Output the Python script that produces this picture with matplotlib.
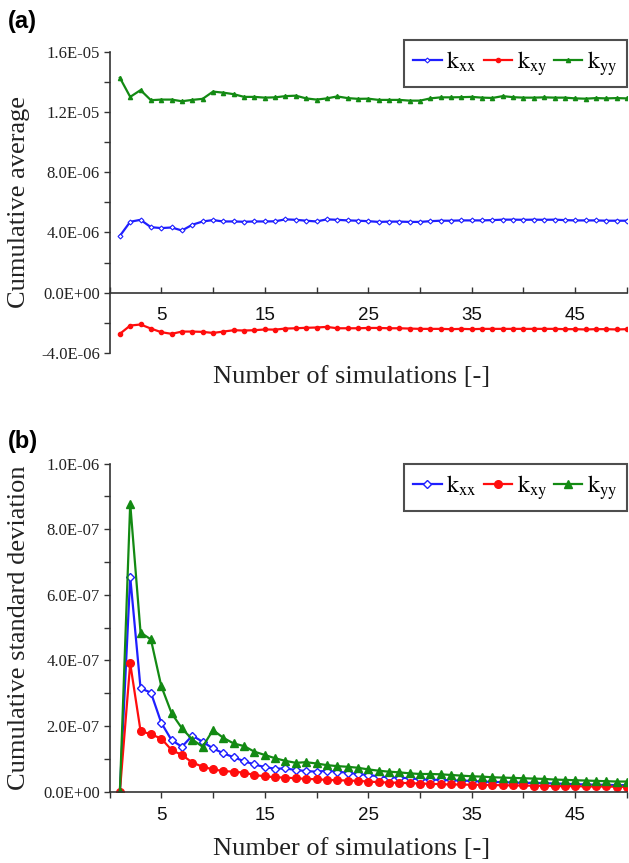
import numpy as np
import matplotlib
matplotlib.use("Agg")
import matplotlib.pyplot as plt
from matplotlib.ticker import FixedLocator, MultipleLocator, FuncFormatter

plt.rcParams['mathtext.fontset'] = 'stix'

# simulation number 1..50
sims = np.arange(1, 51)

# (a) cumulative average, in units of 1E-06
avg_kxx = [3.77, 4.71, 4.84, 4.35, 4.29, 4.33, 4.13, 4.51, 4.73, 4.82,
           4.73, 4.73, 4.71, 4.73, 4.73, 4.74, 4.87, 4.84, 4.78, 4.73,
           4.87, 4.84, 4.80, 4.78, 4.75, 4.70, 4.72, 4.72, 4.70, 4.70,
           4.75, 4.78, 4.78, 4.80, 4.80, 4.80, 4.82, 4.85, 4.85, 4.84,
           4.85, 4.84, 4.85, 4.82, 4.80, 4.80, 4.80, 4.78, 4.78, 4.78]
avg_kxy = [-2.73, -2.18, -2.11, -2.38, -2.62, -2.73, -2.58, -2.58, -2.60, -2.67,
           -2.58, -2.49, -2.51, -2.49, -2.44, -2.45, -2.38, -2.36, -2.33, -2.31,
           -2.27, -2.36, -2.36, -2.36, -2.34, -2.34, -2.36, -2.36, -2.38, -2.40,
           -2.40, -2.40, -2.42, -2.40, -2.42, -2.40, -2.40, -2.40, -2.40, -2.40,
           -2.40, -2.40, -2.40, -2.42, -2.42, -2.44, -2.42, -2.42, -2.44, -2.42]
avg_kyy = [14.27, 13.00, 13.45, 12.78, 12.82, 12.82, 12.71, 12.80, 12.87, 13.35,
           13.28, 13.18, 13.00, 13.00, 12.95, 12.97, 13.05, 13.08, 12.90, 12.82,
           12.90, 13.03, 12.92, 12.87, 12.88, 12.80, 12.80, 12.80, 12.75, 12.75,
           12.90, 12.97, 12.97, 12.98, 13.00, 12.95, 12.93, 13.05, 12.98, 12.95,
           12.95, 12.97, 12.95, 12.95, 12.90, 12.88, 12.92, 12.90, 12.92, 12.90]

# (b) cumulative standard deviation, in units of 1E-07
std_kxx = [0.0, 6.55, 3.15, 3.02, 2.10, 1.57, 1.37, 1.71, 1.52, 1.32,
           1.17, 1.05, 0.93, 0.83, 0.75, 0.70, 0.71, 0.66, 0.63, 0.61,
           0.64, 0.61, 0.58, 0.54, 0.51, 0.47, 0.44, 0.43, 0.41, 0.38,
           0.37, 0.36, 0.35, 0.34, 0.33, 0.31, 0.30, 0.29, 0.28, 0.27,
           0.27, 0.26, 0.25, 0.24, 0.23, 0.22, 0.21, 0.21, 0.20, 0.20]
std_kxy = [0.0, 3.91, 1.85, 1.75, 1.62, 1.27, 1.12, 0.89, 0.76, 0.68,
           0.63, 0.61, 0.58, 0.51, 0.47, 0.44, 0.43, 0.41, 0.39, 0.38,
           0.36, 0.35, 0.34, 0.33, 0.31, 0.29, 0.28, 0.27, 0.26, 0.25,
           0.24, 0.23, 0.22, 0.22, 0.21, 0.21, 0.20, 0.20, 0.19, 0.19,
           0.18, 0.18, 0.17, 0.17, 0.17, 0.16, 0.16, 0.16, 0.15, 0.15]
std_kyy = [0.0, 8.78, 4.85, 4.64, 3.22, 2.39, 1.93, 1.59, 1.37, 1.88,
           1.64, 1.47, 1.39, 1.22, 1.12, 1.02, 0.94, 0.88, 0.90, 0.86,
           0.81, 0.78, 0.76, 0.73, 0.68, 0.64, 0.61, 0.59, 0.56, 0.54,
           0.54, 0.53, 0.51, 0.49, 0.47, 0.46, 0.44, 0.43, 0.42, 0.41,
           0.40, 0.39, 0.37, 0.36, 0.35, 0.34, 0.33, 0.32, 0.31, 0.31]

labels = [r'$\mathrm{k}_{\mathrm{xx}}$', r'$\mathrm{k}_{\mathrm{xy}}$', r'$\mathrm{k}_{\mathrm{yy}}$']
blue, red, green = '#1f1fff', '#ff0d0d', '#138a13'
serif = 'Liberation Serif'
sans = 'Liberation Sans'

fig = plt.figure(figsize=(6.29, 8.63), dpi=100)
ax1 = fig.add_axes([0.1741, 0.5910, 0.8227, 0.3491])
ax2 = fig.add_axes([0.1741, 0.0826, 0.8227, 0.3803])

sci = FuncFormatter(lambda v, p: f'{v:.1E}')


def style(ax, ylab):
    for s in ['top', 'right']:
        ax.spines[s].set_visible(False)
    for s in ['left', 'bottom']:
        ax.spines[s].set_linewidth(1.2)
        ax.spines[s].set_color('#333333')
    ax.set_xlim(0, 50)
    ax.xaxis.set_major_locator(FixedLocator([5, 15, 25, 35, 45]))
    ax.xaxis.set_minor_locator(FixedLocator([0, 10, 20, 30, 40, 50]))
    ax.yaxis.set_major_formatter(sci)
    ax.tick_params(axis='y', which='both', direction='out', length=4, width=1, colors='#333333')
    ax.tick_params(axis='y', labelsize=12, labelcolor='#222222', pad=3)
    for t in ax.get_yticklabels():
        t.set_fontfamily(serif)
    for t in ax.get_xticklabels():
        t.set_fontfamily(sans)
    ax.set_xlabel('Number of simulations [-]', fontfamily=serif, fontsize=19, color='#222222')
    ax.set_ylabel(ylab, fontfamily=serif, fontsize=19, color='#222222')
    ax.yaxis.set_label_coords(-0.153, 0.5)


# (a)
ax1.plot(sims, np.array(avg_kxx) * 1e-6, color=blue, lw=1.6, marker='D', ms=2.5,
         mfc='white', mec=blue, mew=0.8, label=labels[0])
ax1.plot(sims, np.array(avg_kxy) * 1e-6, color=red, lw=1.6, marker='o', ms=3,
         mfc=red, mec=red, label=labels[1])
ax1.plot(sims, np.array(avg_kyy) * 1e-6, color=green, lw=1.6, marker='^', ms=3,
         mfc=green, mec=green, label=labels[2])
ax1.set_ylim(-4e-6, 1.6e-5)
ax1.yaxis.set_major_locator(MultipleLocator(4e-6))
ax1.yaxis.set_minor_locator(MultipleLocator(2e-6))
ax1.spines['bottom'].set_position(('data', 0))
style(ax1, 'Cumulative average')
ax1.tick_params(axis='x', which='both', direction='in', length=4, width=1,
                colors='#333333', labelsize=13.5, labelcolor='#111111', pad=10)
ax1.xaxis.set_label_coords(0.467, -0.043)

# (b)
ax2.plot(sims, np.array(std_kxx) * 1e-7, color=blue, lw=1.6, marker='D', ms=4,
         mfc='white', mec=blue, mew=1.0, label=labels[0])
ax2.plot(sims, np.array(std_kxy) * 1e-7, color=red, lw=1.6, marker='o', ms=5.5,
         mfc=red, mec=red, label=labels[1])
ax2.plot(sims, np.array(std_kyy) * 1e-7, color=green, lw=1.6, marker='^', ms=5.5,
         mfc=green, mec=green, label=labels[2])
ax2.set_ylim(0, 1e-6)
ax2.yaxis.set_major_locator(MultipleLocator(2e-7))
ax2.yaxis.set_minor_locator(MultipleLocator(1e-7))
style(ax2, 'Cumulative standard deviation')
ax2.tick_params(axis='x', which='both', direction='out', length=4, width=1,
                colors='#333333', labelsize=13.5, labelcolor='#111111', pad=7)
ax2.xaxis.set_label_coords(0.467, -0.142)

# legend boxes: top of (a) box sits above the plot area, (b) box at its top
for ax, ytop in [(ax1, 1.04), (ax2, 1.0)]:
    leg = ax.legend(loc='upper right', bbox_to_anchor=(1.0, ytop), ncol=3,
                    prop={'family': serif, 'size': 17}, frameon=True, fancybox=False,
                    handlelength=1.2, handletextpad=0.2, columnspacing=0.3,
                    borderpad=0.4, borderaxespad=0.0)
    leg.get_frame().set_edgecolor('#222222')
    leg.get_frame().set_linewidth(1.5)

fig.text(0.013, 0.975, '(a)', fontfamily=sans, fontweight='bold', fontsize=17, va='center')
fig.text(0.013, 0.488, '(b)', fontfamily=sans, fontweight='bold', fontsize=17, va='center')

fig.savefig('out.png', dpi=100)
